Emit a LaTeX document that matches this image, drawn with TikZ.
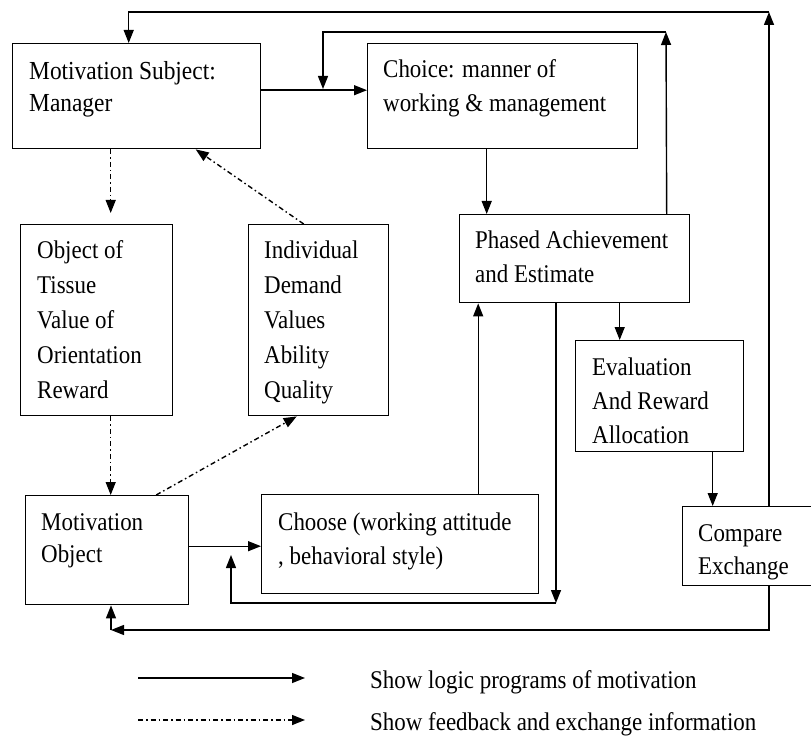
\documentclass[tikz,border=0pt]{standalone}
\usepackage{fontspec}
\setmainfont[FakeStretch=0.9]{Liberation Serif}
\usetikzlibrary{arrows.meta}
\tikzset{
  box/.style={draw, line width=1.4pt, anchor=north west, inner sep=0pt},
  txt/.style={anchor=base west, align=left, inner sep=0pt, font=\fontsize{25.5}{34}\selectfont},
  bigtxt/.style={txt, font=\fontsize{26}{32}\selectfont},
  logic/.style={line width=1.4pt, -{Triangle[length=13pt,width=10pt]}},
  fb/.style={logic, dash pattern=on 5pt off 3pt on 1.5pt off 3pt}
}
\begin{document}
\begin{tikzpicture}[x=1pt,y=-1pt]
      \useasboundingbox (0,0) rectangle (811,738);
      \node[box, minimum width=248pt, minimum height=105pt] (mgr) at (12,43) {};
      \node[box, minimum width=270pt, minimum height=105pt] (choice) at (367,43) {};
      \node[box, minimum width=230pt, minimum height=88pt] (phased) at (459,214) {};
      \node[box, minimum width=152pt, minimum height=191pt] (tissue) at (20,224) {};
      \node[box, minimum width=140pt, minimum height=191pt] (indiv) at (248,224) {};
      \node[box, minimum width=168pt, minimum height=111pt] (eval) at (575,340) {};
      \node[box, minimum width=132pt, minimum height=79pt] (compare) at (682,506) {};
      \node[box, minimum width=163pt, minimum height=109pt] (motobj) at (25,495) {};
      \node[box, minimum width=277pt, minimum height=99pt] (choose) at (261,494) {};
      \node[bigtxt] (mgrtxt) at (29,112) {Motivation Subject:\\Manager};
      \node[txt] (choicetxt) at (383,112) {Choice: manner of\\working \& management};
      \node[txt] (phasedtxt) at (475,282) {Phased Achievement\\and Estimate};
      \node[txt, font=\fontsize{25.5}{35}\selectfont] (tissuetxt) at (37,398)
        {Object of\\Tissue\\Value of\\Orientation\\Reward};
      \node[txt, font=\fontsize{25.5}{35}\selectfont] (indivtxt) at (264,398)
        {Individual\\Demand\\Values\\Ability\\Quality};
      \node[txt] (evaltxt) at (592,443) {Evaluation\\And Reward\\Allocation};
      \node[txt, font=\fontsize{25.5}{33}\selectfont] (comparetxt) at (698,574) {Compare\\Exchange};
      \node[txt, font=\fontsize{25.5}{32}\selectfont] (motobjtxt) at (41,562) {Motivation\\Object};
      \node[txt] (choosetxt) at (278,564) {Choose (working attitude\\, behavioral style)};
      \coordinate (p1) at (666,32);
      \coordinate (p2) at (323,32);
      \coordinate (p3) at (323,89);
      \coordinate (q1) at (769,12);
      \coordinate (q2) at (769,630);
      \coordinate (q3) at (111,630);
      \coordinate (r1) at (556,603);
      \coordinate (r2) at (231,603);
      \coordinate (r3) at (231,555);
      \begin{scope}[logic]
        \draw ([yshift=6pt]mgr.east) -- ([yshift=6pt]choice.west);
        \draw ([xshift=-16pt]choice.south) -- ([xshift=-16pt]choice.south |- phased.north);
        \draw ([xshift=92pt]phased.north) -- (p1);
        \draw (p1) -- (p2) -- (p3);
        \draw (q1 |- compare.north) -- (q1);
        \draw (q1) -| ([xshift=-8pt]mgr.north);
        \draw (q2 |- compare.south) -- (q2) -- (q3);
        \draw (q3) -- (q3 |- motobj.south);
        \draw (r1 |- phased.south) -- (r1);
        \draw (r1) -- (r2) -- (r3);
        \draw ([xshift=78pt]choose.north) -- ([xshift=78pt]choose.north |- phased.south);
        \draw ([xshift=45pt]phased.south) -- ([xshift=45pt]phased.south |- eval.north);
        \draw ([xshift=53pt]eval.south) -- ([xshift=53pt]eval.south |- compare.north);
        \draw ([yshift=4pt]motobj.east) -- ([yshift=4pt]motobj.east -| choose.west);
      \end{scope}
      \begin{scope}[fb]
        \draw[shorten >=11pt] ([xshift=-26pt]mgr.south) -- ([xshift=-26pt]mgr.south |- tissue.north);
        \draw ([xshift=-15pt]indiv.north) -- ([xshift=59pt]mgr.south);
        \draw ([xshift=14pt]tissue.south) -- ([xshift=14pt]tissue.south |- motobj.north);
        \draw ([xshift=49pt]motobj.north) -- ([xshift=-22pt]indiv.south);
      \end{scope}
      \coordinate (l1a) at (138,678);
      \coordinate (l1b) at (305,678);
      \coordinate (l2a) at (138,720);
      \coordinate (l2b) at (305,720);
      \draw[logic] (l1a) -- (l1b);
      \draw[fb] (l2a) -- (l2b);
      \node[txt] (leg1) at (370,688) {Show logic programs of motivation};
      \node[txt] (leg2) at (370,730) {Show feedback and exchange information};
    \end{tikzpicture}
\end{document}
